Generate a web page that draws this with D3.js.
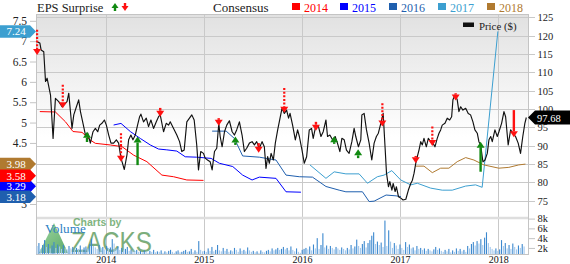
<!DOCTYPE html>
<html>
<head>
<meta charset="utf-8">
<script src="https://cdn.jsdelivr.net/npm/d3@7/dist/d3.min.js"></script>
<style>
  body { margin: 0; background: #fff; }
  svg { display: block; font-family: "Liberation Serif", "Times New Roman", serif; }
</style>
</head>
<body>
<div id="chart"></div>
<script>
// chart data (dates are decimal years)
var years = [2014, 2015, 2016, 2017, 2018];
var priceTicks = [75, 80, 85, 90, 95, 100, 105, 110, 115, 120, 125];
var epsTicks = [3, 3.5, 4, 4.5, 5, 5.5, 6, 6.5, 7, 7.5];
var volTicks = [2, 4, 6, 8];

var price = [
  [2013.303, 118.3], [2013.329, 118.0], [2013.342, 116.1], [2013.369, 115.6], [2013.387, 107.5],
  [2013.403, 108.4], [2013.438, 103.8], [2013.464, 92.0], [2013.488, 102.9], [2013.522, 102.0],
  [2013.556, 100.6], [2013.606, 102.0], [2013.624, 104.3], [2013.641, 99.3], [2013.657, 94.7],
  [2013.675, 98.4], [2013.702, 100.6], [2013.725, 102.5], [2013.743, 99.3], [2013.776, 95.2],
  [2013.794, 92.9], [2013.817, 93.4], [2013.844, 90.7], [2013.871, 93.8], [2013.895, 94.7],
  [2013.919, 93.8], [2013.939, 95.6], [2013.962, 96.1], [2013.987, 97.0], [2014.007, 95.6],
  [2014.031, 92.9], [2014.054, 90.7], [2014.081, 90.7], [2014.109, 91.6], [2014.132, 90.7],
  [2014.156, 86.6], [2014.190, 83.5], [2014.217, 87.5], [2014.234, 91.6], [2014.257, 92.9],
  [2014.278, 91.6], [2014.302, 92.9], [2014.325, 95.6], [2014.346, 97.9], [2014.359, 98.6],
  [2014.386, 96.5], [2014.414, 97.5], [2014.437, 95.2], [2014.461, 97.0], [2014.488, 94.7],
  [2014.516, 96.5], [2014.539, 97.9], [2014.556, 98.4], [2014.590, 93.8], [2014.617, 96.1],
  [2014.641, 95.6], [2014.658, 96.5], [2014.692, 94.7], [2014.725, 92.9], [2014.753, 91.1],
  [2014.776, 88.4], [2014.800, 88.8], [2014.827, 96.5], [2014.854, 97.5], [2014.878, 98.4],
  [2014.902, 97.0], [2014.928, 90.2], [2014.946, 83.4], [2014.969, 88.4], [2014.997, 87.9],
  [2015.014, 86.6], [2015.038, 86.1], [2015.065, 85.6], [2015.085, 83.4], [2015.109, 88.4],
  [2015.132, 89.3], [2015.153, 96.1], [2015.167, 92.5], [2015.187, 89.7], [2015.211, 93.8],
  [2015.234, 95.6], [2015.261, 96.8], [2015.289, 93.8], [2015.312, 92.9], [2015.335, 94.3],
  [2015.363, 96.5], [2015.390, 92.9], [2015.414, 88.4], [2015.437, 89.3], [2015.465, 90.7],
  [2015.492, 91.1], [2015.516, 90.2], [2015.539, 91.1], [2015.566, 89.3], [2015.594, 91.1],
  [2015.617, 89.7], [2015.634, 83.8], [2015.651, 87.0], [2015.668, 85.2], [2015.686, 87.9],
  [2015.709, 86.1], [2015.729, 90.7], [2015.753, 94.3], [2015.777, 97.5], [2015.797, 100.2],
  [2015.821, 98.8], [2015.844, 99.7], [2015.864, 97.5], [2015.879, 98.8], [2015.905, 95.6],
  [2015.933, 91.6], [2015.956, 94.3], [2015.974, 92.5], [2016.001, 88.8], [2016.024, 85.2],
  [2016.048, 87.0], [2016.075, 94.3], [2016.098, 94.7], [2016.115, 92.0], [2016.143, 95.6],
  [2016.169, 95.2], [2016.194, 92.5], [2016.217, 93.8], [2016.245, 97.0], [2016.261, 92.5],
  [2016.285, 92.9], [2016.312, 91.6], [2016.339, 92.5], [2016.362, 90.7], [2016.387, 88.4],
  [2016.407, 92.0], [2016.431, 91.6], [2016.454, 88.8], [2016.481, 87.9], [2016.509, 91.1],
  [2016.532, 94.7], [2016.549, 92.5], [2016.576, 89.7], [2016.600, 91.6], [2016.611, 98.4],
  [2016.634, 98.8], [2016.658, 94.3], [2016.685, 90.7], [2016.712, 86.1], [2016.736, 90.7],
  [2016.759, 92.5], [2016.779, 93.4], [2016.804, 96.1], [2016.828, 98.8], [2016.848, 89.3],
  [2016.862, 82.5], [2016.882, 78.8], [2016.896, 80.2], [2016.917, 77.9], [2016.930, 79.7],
  [2016.950, 77.5], [2016.963, 78.8], [2016.984, 76.1], [2017.008, 75.7], [2017.031, 75.2],
  [2017.059, 75.4], [2017.085, 77.9], [2017.109, 79.7], [2017.126, 80.6], [2017.143, 82.5],
  [2017.160, 85.2], [2017.176, 87.0], [2017.193, 88.8], [2017.211, 91.1], [2017.227, 90.2],
  [2017.244, 92.0], [2017.268, 89.7], [2017.288, 92.0], [2017.312, 91.1], [2017.336, 90.7],
  [2017.356, 89.7], [2017.379, 92.0], [2017.397, 93.4], [2017.414, 94.3], [2017.430, 95.6],
  [2017.458, 96.1], [2017.481, 97.5], [2017.506, 97.0], [2017.526, 97.9], [2017.539, 102.5],
  [2017.560, 103.8], [2017.583, 102.5], [2017.600, 99.3], [2017.618, 100.6], [2017.641, 99.7],
  [2017.669, 100.2], [2017.695, 98.8], [2017.719, 98.4], [2017.743, 96.5], [2017.763, 94.3],
  [2017.787, 93.4], [2017.804, 91.1], [2017.821, 90.2], [2017.845, 85.6], [2017.866, 86.1],
  [2017.889, 87.9], [2017.906, 91.6], [2017.924, 92.5], [2017.940, 91.1], [2017.967, 94.3],
  [2017.991, 92.5], [2018.008, 93.8], [2018.035, 96.1], [2018.059, 99.3], [2018.076, 97.9],
  [2018.102, 90.2], [2018.127, 94.3], [2018.150, 93.4], [2018.177, 92.5], [2018.204, 90.7],
  [2018.228, 87.9], [2018.251, 92.5], [2018.272, 96.1], [2018.287, 97.68]
];

// consensus EPS estimates per fiscal year
var cons2014 = [
  [2013.329, 5.27], [2013.488, 5.26], [2013.590, 5.02], [2013.667, 4.78], [2013.759, 4.76],
  [2013.844, 4.57], [2013.895, 4.49], [2014.048, 4.45], [2014.166, 4.41], [2014.285, 4.20],
  [2014.420, 4.04], [2014.573, 3.71], [2014.692, 3.67], [2014.827, 3.59], [2014.997, 3.58]
];
var cons2015 = [
  [2014.081, 4.94], [2014.156, 4.98], [2014.251, 4.78], [2014.353, 4.61], [2014.455, 4.45],
  [2014.539, 4.35], [2014.623, 4.33], [2014.725, 4.30], [2014.811, 4.16], [2014.929, 4.15],
  [2015.075, 4.12], [2015.159, 4.00], [2015.295, 3.92], [2015.396, 3.71], [2015.492, 3.59],
  [2015.566, 3.66], [2015.736, 3.63], [2015.838, 3.30], [2015.990, 3.29]
];
var cons2016 = [
  [2015.085, 4.79], [2015.228, 4.79], [2015.312, 4.61], [2015.396, 4.18], [2015.566, 4.15],
  [2015.736, 4.08], [2015.838, 3.71], [2015.973, 3.67], [2016.108, 3.66], [2016.245, 3.43],
  [2016.380, 3.34], [2016.448, 3.30], [2016.617, 3.30], [2016.685, 3.06], [2016.736, 3.07],
  [2016.858, 3.22], [2016.959, 3.20], [2017.010, 3.18]
];
var cons2017 = [
  [2016.082, 3.96], [2016.245, 3.63], [2016.329, 3.79], [2016.448, 3.74], [2016.583, 3.74],
  [2016.668, 3.51], [2016.769, 3.67], [2016.837, 3.71], [2016.916, 3.82], [2017.007, 3.59],
  [2017.109, 3.47], [2017.176, 3.51], [2017.312, 3.39], [2017.430, 3.34], [2017.532, 3.34],
  [2017.668, 3.44], [2017.770, 3.47], [2017.837, 3.41], [2017.997, 7.24]
];
var cons2018 = [
  [2017.160, 3.93], [2017.244, 3.93], [2017.329, 3.77], [2017.414, 3.88], [2017.498, 3.88],
  [2017.583, 4.04], [2017.669, 4.14], [2017.753, 4.08], [2017.854, 3.96], [2018.007, 3.88],
  [2018.109, 3.90], [2018.210, 3.96], [2018.278, 3.98]
];

// EPS surprise arrows: [date, from price, to price (tip), style]
var surprises = [
  [2013.301, 121.6, 114.7, "dot"], [2013.563, 106.6, 100.2, "dot"], [2013.810, 91.0, 93.8, "small"],
  [2014.156, 93.4, 85.6, "dot"], [2014.325, 84.7, 92.5, "solid"], [2014.556, 100.3, 97.9, "small"],
  [2015.152, 97.5, 95.4, "small"], [2015.322, 90.2, 92.5, "small"], [2015.559, 90.7, 88.1, "small"],
  [2015.820, 105.7, 99.0, "dot"], [2016.143, 96.5, 94.1, "small"], [2016.329, 90.5, 92.6, "small"],
  [2016.573, 86.6, 89.0, "small"], [2016.820, 101.6, 95.2, "dot"], [2017.160, 87.2, 85.2, "small"],
  [2017.329, 95.2, 89.9, "dot"], [2017.567, 104.3, 102.3, "small"], [2017.821, 82.9, 91.1, "solid"],
  [2018.160, 99.7, 92.3, "solid"]
];

// weekly volume (thousands), starting at the first price week
var volStart = 2013.30;
var volume = [
  2.4, 3.0, 1.8, 2.6, 3.6, 2.2, 2.8, 1.9, 2.5, 3.2, 2.0, 2.7, 2.3,
  1.8, 2.6, 2.0, 1.7, 2.4, 1.9, 2.2, 1.6, 2.0, 1.8, 2.5, 1.7, 2.1,
  2.3, 1.9, 2.8, 3.9, 2.4, 2.1, 1.8, 2.6, 2.0, 2.2, 1.7, 2.4, 2.0,
  2.1, 3.8, 2.9, 1.9, 2.3, 1.6, 2.0, 1.5, 1.8, 2.2, 1.4, 1.7, 1.5,
  1.3, 1.6, 1.2, 1.4, 1.1, 1.5, 1.3, 1.0, 1.4, 1.2, 1.6, 1.1, 1.3,
  1.2, 1.5, 1.0, 1.3, 1.1, 1.4, 1.6, 1.2, 1.0, 1.3, 1.5, 1.1, 1.2,
  1.4, 1.6, 1.2, 1.3, 1.8, 1.1, 1.5, 1.2, 3.4, 1.6, 1.3, 1.4, 1.2,
  1.9, 1.4, 2.2, 1.3, 1.6, 2.6, 1.5, 1.3, 2.0, 1.4, 1.8, 1.2, 1.5,
  1.3, 2.0, 1.6, 1.2, 1.9, 1.4, 1.6, 1.3, 2.1, 1.5, 1.2, 1.4, 1.1,
  1.3, 1.0, 1.5, 1.2, 1.1, 1.4, 1.6, 1.3, 1.9, 1.5, 1.7, 2.0, 1.6,
  1.8, 2.2, 1.7, 2.0, 1.5, 2.3, 1.6, 1.3, 1.9, 1.2, 1.0, 1.6, 1.8,
  2.0, 1.7, 2.3, 1.5, 2.7, 1.9, 4.0, 1.8, 2.6, 5.0, 2.1, 2.5, 1.8,
  2.4, 2.0, 1.7, 2.2, 1.9, 1.6, 2.1, 1.8, 1.5, 2.0, 1.7, 2.6, 1.9,
  2.3, 3.7, 2.4, 2.0, 2.8, 3.4, 2.1, 3.0, 3.6, 4.5, 5.2, 2.8, 3.3,
  2.6, 3.1, 2.2, 7.6, 2.4, 5.6, 3.3, 2.0, 3.0, 2.5, 1.8, 2.7, 2.0,
  1.6, 3.2, 2.2, 2.7, 1.9, 2.1, 1.5, 2.4, 1.8, 2.0, 1.6, 1.9, 1.4,
  1.8, 1.5, 1.3, 1.7, 2.2, 1.6, 1.9, 1.4, 1.2, 1.6, 1.3, 1.8, 1.1,
  1.5, 1.2, 1.9, 1.4, 1.8, 1.3, 1.6, 1.2, 2.4, 1.9, 2.8, 3.2, 2.5,
  3.4, 2.9, 3.8, 2.6, 4.1, 5.2, 3.0, 2.2, 1.8, 1.5, 1.9, 1.4, 1.7,
  3.6, 2.4, 3.0, 1.9, 2.6, 1.8, 2.9, 2.2, 1.7, 2.5, 2.0, 2.8, 2.3
];

var consColors = {2014: "#ff0000", 2015: "#0000ff", 2016: "#1f5fae", 2017: "#3c9fd0", 2018: "#b07a30"};
var consensus = [[2014, cons2014], [2015, cons2015], [2016, cons2016], [2017, cons2017], [2018, cons2018]];

// layout
var svgWidth = 570, svgHeight = 264;
var plot = {left: 36, right: 528, top: 14, volTop: 219, bottom: 254};

var svg = d3.select("#chart").append("svg")
  .attr("width", svgWidth)
  .attr("height", svgHeight);

var x = d3.scaleLinear().domain([2013.29, 2018.3]).range([36, 527.6]);
var yPrice = d3.scaleLinear().domain([75, 125]).range([200.7, 17.3]);
var yEps = d3.scaleLinear().domain([3, 7.5]).range([204, 20.8]);
var yVol = d3.scaleLinear().domain([0, 8]).range([257.7, 218.6]);

var defs = svg.append("defs");
var grad = defs.append("linearGradient").attr("id", "bg").attr("x1", 0).attr("y1", 0).attr("x2", 0).attr("y2", 1);
grad.append("stop").attr("offset", "0%").attr("stop-color", "#e1e1e1");
grad.append("stop").attr("offset", "60%").attr("stop-color", "#ffffff");
defs.append("clipPath").attr("id", "plotClip").append("rect")
  .attr("x", plot.left).attr("y", plot.top)
  .attr("width", plot.right - plot.left).attr("height", plot.volTop - plot.top - 2);
var tri = defs.append("linearGradient").attr("id", "tri").attr("x1", 0).attr("y1", 0).attr("x2", 1).attr("y2", 1);
tri.append("stop").attr("offset", "0%").attr("stop-color", "#8fd08f");
tri.append("stop").attr("offset", "100%").attr("stop-color", "#3f9a4f");

// background of price panel
svg.append("rect")
  .attr("x", plot.left).attr("y", plot.top)
  .attr("width", plot.right - plot.left).attr("height", plot.volTop - plot.top)
  .attr("fill", "url(#bg)");

// grid
var grid = svg.append("g").attr("stroke", "#c9c9c9").attr("stroke-width", 1);
grid.selectAll(".h").data(priceTicks).enter().append("line")
  .attr("x1", plot.left).attr("x2", plot.right + 7)
  .attr("y1", d => Math.round(yPrice(d)) + 0.5).attr("y2", d => Math.round(yPrice(d)) + 0.5);
grid.selectAll(".v").data(years).enter().append("line")
  .attr("x1", d => Math.round(x(d)) + 0.5).attr("x2", d => Math.round(x(d)) + 0.5)
  .attr("y1", plot.top).attr("y2", plot.bottom);

// separator between price and volume panels
svg.append("line")
  .attr("x1", plot.left).attr("x2", plot.right)
  .attr("y1", plot.volTop - 1).attr("y2", plot.volTop - 1)
  .attr("stroke", "#dedede").attr("stroke-width", 2.5);

// frame
svg.append("rect")
  .attr("x", plot.left + 0.5).attr("y", plot.top + 0.5)
  .attr("width", plot.right - plot.left).attr("height", plot.bottom - plot.top)
  .attr("fill", "none").attr("stroke", "#c4c4c4");

// zacks watermark
var mark = svg.append("g");
mark.append("polygon")
  .attr("points", "39,253 54,223 68,253")
  .attr("fill", "url(#tri)").attr("opacity", 0.85);
mark.append("text")
  .attr("x", 73).attr("y", 226)
  .attr("font-family", "'Liberation Sans', Arial, sans-serif")
  .attr("font-weight", "bold").attr("font-size", 10.5)
  .attr("fill", "#6aa86a").attr("opacity", 0.85)
  .text("Charts by");
mark.append("text")
  .attr("x", 71).attr("y", 252)
  .attr("font-family", "'Liberation Sans', Arial, sans-serif")
  .attr("font-size", 30)
  .attr("textLength", 81).attr("lengthAdjust", "spacingAndGlyphs")
  .attr("fill", "#5c9a5c").attr("opacity", 0.8)
  .text("ZACKS");
svg.append("text")
  .attr("x", 45).attr("y", 233)
  .attr("font-size", 13.2).attr("fill", "#2f7fc4")
  .text("Volume");

// volume bars
svg.append("g").selectAll("rect")
  .data(volume)
  .enter()
  .append("rect")
  .attr("x", (d, i) => x(volStart + i * 7 / 365.25) - 0.5)
  .attr("y", d => Math.min(yVol(d), plot.bottom))
  .attr("width", 1.1)
  .attr("height", d => Math.max(0, plot.bottom - yVol(d)))
  .attr("fill", (d, i) => (i > 0 && d > volume[i - 1]) ? "#3d89cf" : "#a3c8ec");

// consensus lines
var epsLine = d3.line().x(d => x(d[0])).y(d => yEps(d[1]));
var marks = svg.append("g").attr("clip-path", "url(#plotClip)");
consensus.forEach(function(c) {
  marks.append("path")
    .datum(c[1])
    .attr("d", epsLine)
    .attr("fill", "none")
    .attr("stroke", consColors[c[0]])
    .attr("stroke-width", 1);
});

// price line
var priceLine = d3.line().x(d => x(d[0])).y(d => yPrice(d[1]));
marks.append("path")
  .datum(price)
  .attr("d", priceLine)
  .attr("fill", "none")
  .attr("stroke", "#111")
  .attr("stroke-width", 1.15)
  .attr("stroke-linejoin", "round");

// surprise arrows
function drawArrow(g, px, yFrom, yTip, style, hw, hh) {
  var up = yFrom > yTip;
  var dir = up ? 1 : -1;
  var color = up ? "#118a11" : "#ff1010";
  var tailEnd = yTip + dir * hh;
  g.append("line")
    .attr("x1", px).attr("x2", px)
    .attr("y1", yFrom).attr("y2", tailEnd)
    .attr("stroke", color)
    .attr("stroke-width", style === "dot" ? 2.2 : 2.4)
    .attr("stroke-dasharray", style === "dot" ? "2,1.6" : null);
  g.append("polygon")
    .attr("points", [[px - hw, tailEnd], [px + hw, tailEnd], [px, yTip]].join(" "))
    .attr("fill", color);
}
var arrows = svg.append("g");
surprises.forEach(function(s) {
  drawArrow(arrows, x(s[0]), yPrice(s[1]), yPrice(s[2]), s[3], 4, 6);
});

// legends
svg.append("text").attr("x", 37).attr("y", 11.7).attr("font-size", 12.5).attr("fill", "#222").text("EPS Surprise");
drawArrow(svg, 115, 11, 3, "solid", 3.5, 5);
drawArrow(svg, 125, 3, 11, "solid", 3.5, 5);
svg.append("text").attr("x", 213).attr("y", 11.7).attr("font-size", 13).attr("fill", "#222").text("Consensus");
var legendX = {2014: 292, 2015: 340, 2016: 389, 2017: 438, 2018: 487};
var leg = svg.append("g").selectAll("g").data(consensus).enter().append("g")
  .attr("transform", d => `translate(${legendX[d[0]]}, 0)`);
leg.append("rect").attr("x", 0).attr("y", 3).attr("width", 8).attr("height", 7)
  .attr("fill", d => consColors[d[0]]);
leg.append("text").attr("x", 12).attr("y", 11.5).attr("font-size", 12)
  .attr("fill", d => consColors[d[0]]).text(d => d[0]);
svg.append("rect").attr("x", 463).attr("y", 22.5).attr("width", 11).attr("height", 4.5).attr("fill", "#111");
svg.append("text").attr("x", 479).attr("y", 29.5).attr("font-size", 10.8).attr("fill", "#222").text("Price ($)");

// axes
var yearAxis = d3.axisBottom(x).tickValues(years).tickFormat(d3.format("d")).tickSize(0).tickPadding(2);
svg.append("g").attr("transform", `translate(0, ${plot.bottom})`).call(yearAxis)
  .call(g => g.select(".domain").remove())
  .selectAll("text").attr("font-family", "'Liberation Serif', serif").attr("font-size", 10).attr("fill", "#111");

var priceAxis = d3.axisRight(yPrice).tickValues(priceTicks).tickSize(0).tickPadding(9.5);
svg.append("g").attr("transform", `translate(${plot.right}, 0)`).call(priceAxis)
  .call(g => g.select(".domain").remove())
  .selectAll("text").attr("font-family", "'Liberation Serif', serif").attr("font-size", 10.5).attr("fill", "#222");

var volAxis = d3.axisRight(yVol).tickValues(volTicks).tickFormat(d => d + "k").tickSize(7).tickPadding(2.5);
svg.append("g").attr("transform", `translate(${plot.right}, 0)`).call(volAxis)
  .call(g => g.select(".domain").remove())
  .call(g => g.selectAll("line").attr("stroke", "#c4c4c4"))
  .selectAll("text").attr("font-family", "'Liberation Serif', serif").attr("font-size", 10.5).attr("fill", "#222");

var epsAxis = d3.axisLeft(yEps).tickValues(epsTicks).tickFormat(d3.format("")).tickSize(6).tickPadding(3);
svg.append("g").attr("transform", `translate(${plot.left}, 0)`).call(epsAxis)
  .call(g => g.select(".domain").remove())
  .call(g => g.selectAll("line").attr("stroke", "#c4c4c4"))
  .selectAll("text").attr("font-family", "'Liberation Serif', serif").attr("font-size", 11.5).attr("fill", "#222");

// value badges on the left (last consensus values)
var badgeH = 12.5;
function leftBadge(cy, label, color) {
  var g = svg.append("g");
  g.append("polygon")
    .attr("points", [[0, cy - badgeH / 2], [30, cy - badgeH / 2], [36, cy], [30, cy + badgeH / 2], [0, cy + badgeH / 2]].join(" "))
    .attr("fill", color);
  g.append("text").attr("x", 16).attr("y", cy + 4).attr("text-anchor", "middle")
    .attr("font-size", 11).attr("fill", "#fff").text(label);
}
var last = consensus.map(d => ({year: d[0], value: d[1][d[1].length - 1][1]}));
var high = last.filter(d => d.value > 5);
var low = last.filter(d => d.value <= 5).sort((a, b) => a.value - b.value);
var prevY = null;
low.forEach(function(d) {
  var cy = yEps(d.value);
  if (prevY !== null) cy = Math.min(cy, prevY - 10.5);
  d.cy = cy;
  prevY = cy;
});
// 2015 badge sits underneath its neighbours
low.filter(d => d.year === 2015).forEach(d => leftBadge(d.cy, d3.format(".2f")(d.value), consColors[d.year]));
low.slice().reverse().filter(d => d.year !== 2015)
  .forEach(d => leftBadge(d.cy, d3.format(".2f")(d.value), consColors[d.year]));
high.forEach(d => leftBadge(yEps(d.value), d3.format(".2f")(d.value), consColors[d.year]));

// last price badge on the right
var lastPrice = price[price.length - 1][1];
var py = yPrice(lastPrice);
svg.append("polygon")
  .attr("points", [[528, py], [535, py - 7], [570, py - 7], [570, py + 7], [535, py + 7]].join(" "))
  .attr("fill", "#000");
svg.append("text").attr("x", 537).attr("y", py + 4).attr("font-size", 10.5).attr("fill", "#fff")
  .text(d3.format(".2f")(lastPrice));
</script>
</body>
</html>
